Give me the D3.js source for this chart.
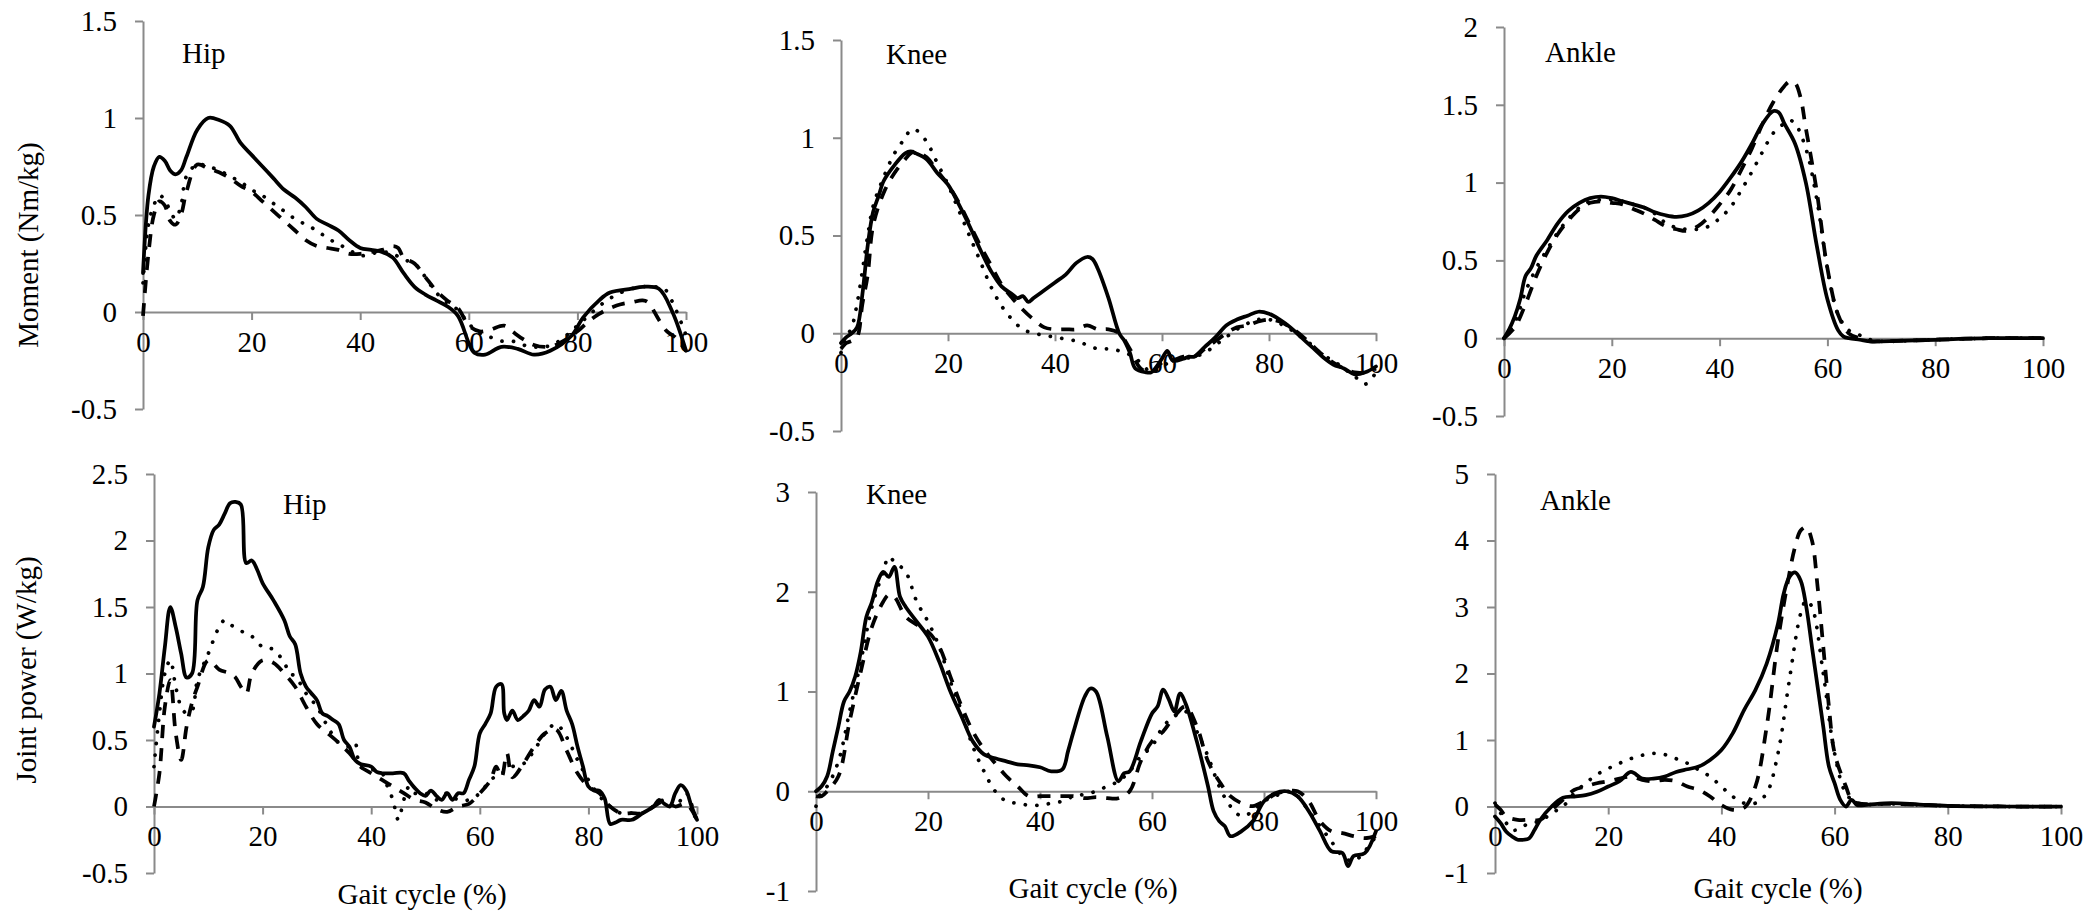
<!DOCTYPE html>
<html>
<head>
<meta charset="utf-8">
<script src="https://cdn.jsdelivr.net/npm/d3@7"></script>
<style>
  html, body { margin: 0; padding: 0; background: #fff; }
</style>
</head>
<body>
<div id="container"></div>
<script>
// Chart size
const width = 2093;
const height = 924;

// Gait cycle ticks (x) and y tick values per panel
const gaitTicks = [0, 20, 40, 60, 80, 100];
const momentTicks = [-0.5, 0, 0.5, 1, 1.5];
const ankleMomentTicks = [-0.5, 0, 0.5, 1, 1.5, 2];
const hipPowerTicks = [-0.5, 0, 0.5, 1, 1.5, 2, 2.5];
const kneePowerTicks = [-1, 0, 1, 2, 3];
const anklePowerTicks = [-1, 0, 1, 2, 3, 4, 5];

const jointLabels = ["Hip", "Knee", "Ankle"];
const momentTitle = "Moment (Nm/kg)";
const powerTitle = "Joint power (W/kg)";
const gaitTitle = "Gait cycle (%)";

// --- Joint moments: [gait %, Nm/kg] ---
const hipMomentSolid = [[0,0.2],[1,0.6],[2,0.75],[3,0.8],[4,0.78],[5,0.73],[6,0.71],[7,0.73],[8,0.8],[10,0.94],[12,1.0],[14,0.99],[16,0.96],[18,0.87],[20,0.81],[22,0.75],[24,0.69],[26,0.63],[28,0.59],[30,0.54],[32,0.48],[34,0.45],[36,0.42],[38,0.37],[40,0.33],[42,0.32],[44,0.31],[46,0.28],[48,0.2],[50,0.13],[52,0.09],[54,0.06],[56,0.03],[58,-0.02],[60,-0.16],[61,-0.21],[63,-0.22],[66,-0.18],[69,-0.19],[72,-0.22],[75,-0.2],[79,-0.12],[81,-0.03],[84,0.06],[86,0.1],[90,0.12],[92,0.13],[95,0.12],[97.5,0.0],[100,-0.2]];
const hipMomentDashed = [[0,-0.02],[1,0.3],[2,0.5],[3,0.57],[4,0.55],[5,0.47],[6,0.45],[7,0.5],[8,0.62],[10,0.76],[12,0.74],[14,0.72],[16,0.69],[18,0.65],[20,0.62],[22,0.57],[24,0.52],[26,0.47],[28,0.42],[30,0.37],[32,0.34],[34,0.33],[36,0.32],[38,0.3],[40,0.3],[42,0.31],[44,0.32],[46,0.34],[47,0.33],[48,0.28],[50,0.25],[52,0.18],[54,0.11],[56,0.06],[58,0.02],[60,-0.07],[62,-0.1],[64,-0.09],[66.5,-0.07],[68,-0.1],[70,-0.14],[72,-0.17],[74,-0.18],[76,-0.17],[78,-0.14],[80,-0.1],[82,-0.05],[84,-0.01],[86,0.02],[88,0.04],[90,0.05],[92,0.06],[93,0.05],[95,-0.04],[96.5,-0.1],[98,-0.13],[100,-0.2]];
const hipMomentDotted = [[0,0.15],[1,0.45],[2,0.55],[3,0.6],[4,0.58],[5,0.52],[6,0.48],[7,0.55],[8,0.7],[10,0.76],[12,0.75],[14,0.73],[16,0.7],[18,0.67],[20,0.63],[22,0.6],[24,0.56],[26,0.52],[28,0.48],[30,0.45],[32,0.42],[34,0.38],[36,0.35],[38,0.32],[40,0.29],[42,0.3],[44,0.31],[46,0.3],[48,0.27],[50,0.25],[52,0.18],[54,0.1],[56,0.05],[58,0.01],[60,-0.06],[62,-0.11],[64,-0.13],[66,-0.15],[68,-0.15],[70,-0.17],[72,-0.18],[74,-0.18],[76,-0.16],[78,-0.12],[80,-0.07],[82,-0.02],[84,0.03],[86,0.07],[88,0.1],[90,0.12],[92,0.13],[94,0.13],[96,0.12],[98,0.02],[100,-0.12]];

const kneeMomentSolid = [[0,-0.05],[1,-0.02],[2,0.0],[3,0.03],[4,0.2],[5,0.45],[6,0.62],[7,0.7],[8,0.78],[10,0.86],[12,0.92],[13,0.93],[14,0.92],[16,0.89],[18,0.82],[20,0.76],[22,0.66],[24,0.55],[26,0.43],[28,0.32],[30,0.24],[32,0.2],[33,0.18],[34,0.19],[35,0.16],[36,0.18],[38,0.22],[40,0.26],[42,0.3],[44,0.36],[46,0.39],[47,0.38],[48,0.33],[50,0.18],[52,0.0],[53,-0.04],[54,-0.1],[55,-0.18],[57,-0.2],[58,-0.2],[59,-0.17],[60,-0.13],[61,-0.09],[62,-0.14],[64,-0.13],[65,-0.12],[66,-0.12],[68,-0.07],[70,-0.02],[72,0.04],[74,0.07],[76,0.09],[78,0.11],[80,0.1],[82,0.07],[84,0.03],[86,-0.02],[88,-0.07],[90,-0.12],[92,-0.16],[94,-0.18],[96,-0.21],[98,-0.2],[100,-0.17]];
const kneeMomentDashed = [[0,-0.08],[1,-0.05],[2,-0.04],[3,-0.02],[4,0.15],[5,0.3],[6,0.55],[8,0.72],[10,0.82],[12,0.89],[13,0.92],[14,0.93],[16,0.9],[18,0.83],[20,0.76],[22,0.67],[24,0.56],[26,0.45],[28,0.35],[30,0.25],[32,0.18],[34,0.12],[36,0.07],[38,0.03],[40,0.02],[42,0.02],[44,0.02],[46,0.04],[48,0.02],[50,0.02],[52,0.0],[54,-0.08],[56,-0.18],[58,-0.2],[60,-0.15],[62,-0.14],[64,-0.12],[66,-0.12],[68,-0.08],[70,-0.04],[72,0.0],[74,0.03],[76,0.04],[78,0.06],[80,0.07],[82,0.06],[84,0.03],[86,-0.01],[88,-0.06],[90,-0.11],[92,-0.15],[94,-0.18],[96,-0.2],[98,-0.2],[100,-0.18]];
const kneeMomentDotted = [[0,-0.1],[1,-0.02],[2,0.03],[3,0.15],[4,0.32],[5,0.5],[6,0.65],[8,0.8],[10,0.92],[12,1.0],[13,1.04],[14,1.04],[16,0.98],[18,0.87],[20,0.76],[22,0.63],[24,0.5],[26,0.37],[28,0.24],[30,0.14],[32,0.07],[34,0.02],[36,0.0],[38,-0.01],[40,-0.02],[42,-0.03],[44,-0.04],[46,-0.06],[48,-0.08],[50,-0.08],[52,-0.09],[54,-0.11],[56,-0.15],[58,-0.2],[60,-0.17],[62,-0.14],[64,-0.13],[66,-0.12],[68,-0.1],[70,-0.06],[72,-0.02],[74,0.02],[76,0.05],[78,0.07],[80,0.07],[82,0.05],[84,0.02],[86,-0.02],[88,-0.06],[90,-0.11],[92,-0.14],[94,-0.18],[96,-0.22],[98,-0.26],[100,-0.2]];

const ankleMomentSolid = [[0,0.0],[1,0.06],[2,0.14],[3,0.25],[4,0.4],[5,0.45],[6,0.53],[8,0.63],[10,0.74],[12,0.82],[14,0.87],[16,0.9],[18,0.91],[20,0.9],[22,0.88],[24,0.86],[26,0.84],[28,0.81],[30,0.79],[32,0.78],[34,0.79],[36,0.82],[38,0.87],[40,0.94],[42,1.03],[44,1.13],[46,1.25],[48,1.38],[50,1.46],[51,1.45],[52,1.38],[54,1.25],[56,1.0],[58,0.6],[60,0.25],[62,0.05],[63,0.01],[64,0.0],[66,-0.01],[68,-0.02],[70,-0.02],[80,-0.01],[90,0.0],[100,0.0]];
const ankleMomentDashed = [[0,0.0],[2,0.07],[4,0.22],[6,0.4],[8,0.55],[10,0.67],[12,0.76],[14,0.83],[16,0.87],[18,0.88],[20,0.87],[22,0.86],[24,0.83],[26,0.8],[28,0.76],[30,0.72],[32,0.7],[34,0.69],[36,0.72],[38,0.78],[40,0.86],[42,0.95],[44,1.08],[46,1.22],[48,1.38],[50,1.52],[52,1.62],[53,1.65],[54,1.64],[55,1.55],[56,1.35],[58,0.95],[60,0.45],[62,0.15],[64,0.03],[66,0.0],[68,-0.02],[70,-0.02],[80,-0.01],[90,0.0],[100,0.0]];
const ankleMomentDotted = [[0,0.0],[2,0.1],[4,0.3],[6,0.45],[8,0.57],[10,0.68],[12,0.77],[14,0.84],[16,0.88],[18,0.89],[20,0.89],[22,0.88],[24,0.86],[26,0.84],[28,0.8],[30,0.74],[32,0.71],[34,0.7],[36,0.7],[38,0.72],[40,0.77],[42,0.84],[44,0.95],[46,1.07],[48,1.2],[50,1.32],[52,1.38],[53,1.4],[54,1.38],[56,1.22],[58,0.9],[60,0.45],[62,0.15],[64,0.05],[66,0.02],[68,-0.01],[70,-0.02],[80,-0.01],[90,0.0],[100,0.0]];

// --- Joint powers: [gait %, W/kg] ---
const hipPowerSolid = [[0,0.6],[1,0.85],[2,1.2],[3,1.5],[4,1.35],[5,1.15],[6,0.97],[7,1.0],[8,1.55],[9,1.65],[10,1.95],[11,2.08],[12,2.12],[13,2.2],[14,2.28],[15,2.29],[16,2.27],[17,1.83],[18,1.85],[19,1.78],[20,1.68],[22,1.55],[24,1.4],[25,1.28],[26,1.22],[27,1.0],[28,0.9],[29,0.85],[30,0.8],[31,0.7],[32,0.68],[33,0.65],[34,0.62],[35,0.5],[36,0.45],[37,0.35],[38,0.32],[40,0.3],[41,0.26],[42,0.25],[44,0.25],[46,0.25],[47,0.19],[48,0.14],[49,0.1],[50,0.08],[51,0.12],[52,0.08],[53,0.05],[54,0.1],[55,0.05],[56,0.1],[57,0.1],[58,0.2],[59,0.3],[60,0.55],[61,0.62],[62,0.7],[63,0.9],[64,0.92],[64.5,0.7],[65,0.65],[66,0.72],[67,0.65],[68,0.68],[69,0.72],[70,0.8],[71,0.75],[72,0.88],[73,0.9],[74,0.8],[75,0.87],[76,0.72],[77,0.62],[78,0.45],[79,0.3],[80,0.15],[81,0.12],[82,0.12],[83,0.06],[84,-0.13],[85,-0.12],[86,-0.1],[88,-0.1],[90,-0.05],[92,0.0],[93,0.05],[94,0.02],[95,0.0],[96,0.1],[97,0.16],[98,0.12],[99,0.0],[100,-0.1]];
const hipPowerDashed = [[0,0.0],[1,0.25],[2,0.75],[3,0.95],[4,0.55],[5,0.35],[6,0.6],[7,0.78],[8,0.9],[10,1.1],[12,1.03],[14,1.0],[15,0.97],[16,0.9],[17,0.85],[18,1.0],[20,1.1],[22,1.08],[24,1.0],[26,0.9],[28,0.75],[30,0.62],[32,0.55],[34,0.48],[36,0.4],[38,0.3],[40,0.25],[42,0.2],[44,0.15],[46,0.1],[48,0.05],[50,0.03],[52,-0.02],[54,-0.04],[56,0.0],[58,0.02],[60,0.1],[62,0.2],[63,0.3],[64,0.22],[65,0.4],[66,0.22],[68,0.32],[70,0.45],[72,0.55],[74,0.58],[76,0.42],[78,0.25],[80,0.15],[82,0.1],[84,0.0],[86,-0.05],[88,-0.05],[90,-0.05],[92,0.0],[94,0.04],[96,0.0],[98,0.02],[100,-0.1]];
const hipPowerDotted = [[0,0.3],[1,0.7],[2,1.0],[3,1.1],[4,0.9],[5,0.75],[6,0.7],[7,0.72],[8,0.95],[10,1.15],[12,1.35],[13,1.4],[14,1.37],[16,1.32],[18,1.28],[20,1.2],[22,1.18],[24,1.08],[25,1.0],[26,0.98],[28,0.85],[30,0.75],[32,0.6],[34,0.48],[36,0.45],[37,0.48],[38,0.3],[40,0.28],[42,0.25],[43,0.15],[44,0.05],[45,-0.1],[46,0.05],[47,0.15],[48,0.1],[50,0.1],[52,0.05],[54,0.1],[56,0.05],[58,0.05],[60,0.1],[62,0.2],[64,0.25],[66,0.3],[68,0.32],[70,0.42],[72,0.55],[74,0.62],[76,0.52],[78,0.35],[80,0.2],[82,0.08],[84,0.0],[86,-0.05],[88,-0.05],[90,-0.05],[92,0.0],[94,0.05],[96,0.0],[98,0.1],[100,-0.15]];

const kneePowerSolid = [[0,0.0],[1,0.05],[2,0.15],[3,0.4],[4,0.65],[5,0.9],[6,1.0],[7,1.15],[8,1.4],[9,1.75],[10,1.9],[11,2.1],[12,2.2],[13,2.15],[14,2.25],[15,1.95],[16,1.85],[18,1.7],[20,1.55],[22,1.3],[24,1.0],[26,0.75],[28,0.5],[30,0.37],[32,0.33],[34,0.3],[36,0.27],[38,0.26],[40,0.24],[42,0.2],[44,0.22],[45,0.4],[46,0.6],[48,0.95],[49,1.03],[50,1.0],[52,0.55],[54,0.1],[55,0.18],[56,0.2],[58,0.5],[60,0.78],[61,0.85],[62,1.02],[63,0.92],[64,0.8],[65,0.98],[66,0.88],[68,0.5],[70,0.05],[71,-0.2],[72,-0.3],[73,-0.35],[74,-0.45],[76,-0.4],[78,-0.3],[80,-0.1],[82,-0.02],[84,0.0],[86,-0.05],[88,-0.2],[90,-0.4],[92,-0.6],[94,-0.62],[95,-0.75],[96,-0.65],[98,-0.62],[100,-0.4]];
const kneePowerDashed = [[0,-0.05],[1,-0.05],[2,0.0],[4,0.15],[6,0.7],[8,1.2],[10,1.65],[12,1.9],[13,1.97],[14,1.95],[16,1.75],[18,1.67],[20,1.6],[22,1.45],[24,1.15],[26,0.85],[28,0.6],[30,0.42],[32,0.28],[34,0.15],[36,0.05],[38,-0.05],[40,-0.05],[42,-0.05],[44,-0.05],[46,-0.05],[48,-0.07],[50,-0.06],[52,-0.07],[54,-0.07],[56,0.0],[58,0.3],[60,0.5],[62,0.6],[64,0.75],[66,0.85],[68,0.65],[70,0.3],[72,0.1],[74,-0.05],[76,-0.12],[78,-0.15],[80,-0.1],[82,-0.03],[84,0.0],[86,0.0],[88,-0.1],[90,-0.3],[92,-0.4],[94,-0.42],[96,-0.45],[98,-0.47],[100,-0.45]];
const kneePowerDotted = [[0,-0.15],[1,0.0],[2,0.05],[4,0.3],[6,0.8],[8,1.3],[10,1.85],[12,2.2],[13,2.35],[14,2.3],[16,2.2],[18,1.9],[20,1.7],[22,1.45],[24,1.1],[26,0.8],[28,0.45],[30,0.2],[32,0.0],[34,-0.1],[36,-0.12],[38,-0.14],[40,-0.14],[42,-0.12],[44,-0.1],[46,-0.05],[48,-0.03],[50,0.0],[52,0.05],[54,0.1],[56,0.2],[58,0.35],[60,0.45],[62,0.65],[64,0.75],[66,0.8],[68,0.6],[70,0.35],[72,0.05],[74,-0.15],[76,-0.25],[78,-0.2],[80,-0.1],[82,-0.05],[84,0.0],[86,-0.05],[88,-0.2],[90,-0.35],[92,-0.5],[94,-0.65],[96,-0.7],[98,-0.6],[100,-0.45]];

const anklePowerSolid = [[0,-0.15],[1,-0.25],[2,-0.38],[3,-0.45],[4,-0.5],[5,-0.5],[6,-0.48],[7,-0.35],[8,-0.2],[10,0.0],[12,0.13],[14,0.15],[16,0.17],[18,0.22],[20,0.3],[22,0.38],[24,0.52],[26,0.42],[28,0.42],[30,0.45],[32,0.52],[34,0.56],[36,0.6],[38,0.7],[40,0.85],[42,1.1],[44,1.45],[46,1.75],[48,2.15],[50,2.75],[51,3.2],[52,3.45],[53,3.52],[54,3.4],[55,3.0],[56,2.4],[57,1.8],[58,1.2],[59,0.6],[60,0.35],[61,0.1],[62,0.0],[63,0.1],[64,0.02],[66,0.03],[70,0.05],[75,0.03],[80,0.01],[90,0.0],[100,0.0]];
const anklePowerDashed = [[0,0.03],[1,-0.05],[2,-0.15],[4,-0.2],[6,-0.2],[8,-0.2],[10,-0.05],[12,0.1],[14,0.25],[16,0.3],[18,0.35],[20,0.38],[22,0.42],[24,0.45],[26,0.4],[28,0.38],[30,0.4],[32,0.38],[34,0.3],[36,0.25],[38,0.15],[40,0.02],[42,-0.05],[44,-0.02],[46,0.3],[48,1.2],[50,2.5],[52,3.5],[53,3.9],[54,4.15],[55,4.2],[56,4.0],[57,3.3],[58,2.4],[59,1.5],[60,0.8],[62,0.3],[63,0.1],[64,0.05],[70,0.04],[80,0.01],[90,0.0],[100,0.0]];
const anklePowerDotted = [[0,0.05],[1,-0.1],[2,-0.25],[3,-0.35],[4,-0.35],[5,-0.3],[6,-0.25],[8,-0.22],[10,-0.1],[12,0.0],[14,0.2],[16,0.35],[18,0.48],[20,0.57],[22,0.65],[24,0.72],[26,0.77],[28,0.8],[30,0.78],[32,0.72],[34,0.65],[36,0.55],[38,0.45],[40,0.3],[42,0.15],[44,0.05],[46,0.05],[48,0.2],[50,0.8],[52,1.9],[54,2.9],[55,3.1],[56,3.0],[58,2.0],[60,0.8],[62,0.2],[64,0.05],[70,0.04],[80,0.01],[90,0.0],[100,0.0]];

// Line styles: dashed, dotted, solid (solid drawn last)
const lineStyles = [
  { dash: "13,10", cap: "butt" },
  { dash: "0.1,11.5", cap: "round" },
  { dash: null, cap: "round" }
];

const font = "'Liberation Serif', 'Times New Roman', serif";
const fontSize = 29;
const axisColour = "#8a8a8a";

// Panel layout (pixel boxes) plus their data
const panels = [
  { series: [hipMomentDashed, hipMomentDotted, hipMomentSolid], yTicks: momentTicks,
    left: 143, right: 686, top: 21, bottom: 409, label: jointLabels[0], lx: 182, ly: 63 },
  { series: [kneeMomentDashed, kneeMomentDotted, kneeMomentSolid], yTicks: momentTicks,
    left: 841, right: 1376, top: 40, bottom: 431, label: jointLabels[1], lx: 886, ly: 64 },
  { series: [ankleMomentDashed, ankleMomentDotted, ankleMomentSolid], yTicks: ankleMomentTicks,
    left: 1504, right: 2043, top: 27, bottom: 416, label: jointLabels[2], lx: 1545, ly: 62 },
  { series: [hipPowerDashed, hipPowerDotted, hipPowerSolid], yTicks: hipPowerTicks,
    left: 154, right: 697, top: 474, bottom: 873, label: jointLabels[0], lx: 283, ly: 514 },
  { series: [kneePowerDashed, kneePowerDotted, kneePowerSolid], yTicks: kneePowerTicks,
    left: 816, right: 1376, top: 492, bottom: 891, label: jointLabels[1], lx: 866, ly: 504 },
  { series: [anklePowerDashed, anklePowerDotted, anklePowerSolid], yTicks: anklePowerTicks,
    left: 1495, right: 2061, top: 474, bottom: 873, label: jointLabels[2], lx: 1540, ly: 510 }
];

// Create the SVG container.
const svg = d3.create("svg")
  .attr("width", width)
  .attr("height", height)
  .style("background", "#fff");
document.getElementById("container").appendChild(svg.node());

const styleAxis = (g) => {
  g.attr("font-family", font).attr("font-size", fontSize);
  g.select(".domain").attr("stroke", axisColour).attr("stroke-width", 2);
  g.selectAll(".tick line").attr("stroke", axisColour).attr("stroke-width", 2);
  g.selectAll(".tick text").attr("fill", "#000");
};

panels.forEach((p) => {
  const x = d3.scaleLinear().domain([0, 100]).range([p.left, p.right]);
  const y = d3.scaleLinear()
    .domain([p.yTicks[0], p.yTicks[p.yTicks.length - 1]])
    .range([p.bottom, p.top]);

  // y-axis
  svg.append("g")
    .attr("transform", `translate(${p.left},0)`)
    .call(d3.axisLeft(y).tickValues(p.yTicks).tickSize(8).tickSizeOuter(0)
      .tickPadding(18).tickFormat((d) => String(d)))
    .call(styleAxis);

  // x-axis crossing at zero
  svg.append("g")
    .attr("transform", `translate(0,${y(0)})`)
    .call(d3.axisBottom(x).tickValues(gaitTicks).tickSize(8).tickSizeOuter(0)
      .tickPadding(11).tickFormat((d) => String(d)))
    .call(styleAxis);

  const line = d3.line()
    .curve(d3.curveCatmullRom.alpha(0.5))
    .x((d) => x(d[0]))
    .y((d) => y(d[1]));

  p.series.forEach((s, i) => {
    svg.append("path")
      .datum(s)
      .attr("fill", "none")
      .attr("stroke", "#000")
      .attr("stroke-width", 3.75)
      .attr("stroke-linejoin", "round")
      .attr("stroke-linecap", lineStyles[i].cap)
      .attr("stroke-dasharray", lineStyles[i].dash)
      .attr("d", line);
  });

  // joint label
  svg.append("text")
    .attr("x", p.lx)
    .attr("y", p.ly)
    .attr("font-family", font)
    .attr("font-size", fontSize)
    .text(p.label);
});

// Axis titles
const titleText = (t, xPos, yPos, rotate) => {
  svg.append("text")
    .attr("transform", `translate(${xPos},${yPos})` + (rotate ? " rotate(-90)" : ""))
    .attr("text-anchor", "middle")
    .attr("font-family", font)
    .attr("font-size", fontSize)
    .text(t);
};
titleText(momentTitle, 38, 245, true);
titleText(powerTitle, 36, 670, true);
titleText(gaitTitle, 422, 904, false);
titleText(gaitTitle, 1093, 898, false);
titleText(gaitTitle, 1778, 898, false);
</script>
</body>
</html>
